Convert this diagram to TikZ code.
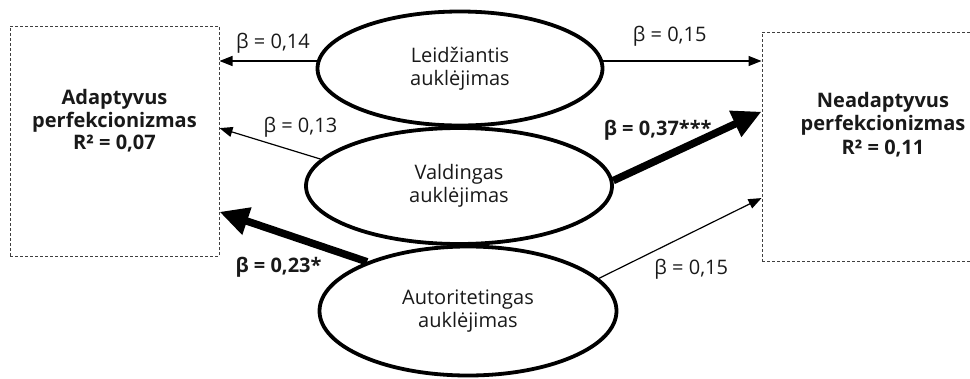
\documentclass[tikz,border=0pt]{standalone}
\usepackage{fontspec}
\setmainfont{Open Sans}
\usetikzlibrary{positioning,shapes.geometric,arrows.meta}
\tikzstyle{edge} = [-{Triangle[length=13pt,width=10pt]}, line width=1.2pt]
\tikzstyle{strongedge} = [-{Triangle[length=29pt,width=27pt]}, line width=7.5pt]
\tikzstyle{parenting} = [ellipse, draw, line width=3.8pt, inner sep=0pt]
\tikzstyle{outcome} = [draw=black!75, line width=1pt, dash pattern=on 3pt off 2pt]

\begin{document}
\begin{tikzpicture}[x=1pt, y=-1pt]
\tikzstyle{every node}=[align=center, inner sep=1pt, text=black!90, font=\fontsize{20}{23.5}\selectfont]
	\useasboundingbox (0,0) rectangle (970,378);
	\node[outcome, minimum width=209pt, minimum height=230pt] (adapt) at (114.5, 141) {};
	\node[outcome, minimum width=242pt, minimum height=229pt] (neadapt) at (883, 146.5) {};
	\node[font=\fontsize{20}{22.5}\selectfont\bfseries] (adapttxt) at ([yshift=20pt]adapt.center) {Adaptyvus\\perfekcionizmas\\R² = 0,07};
	\node[font=\fontsize{20}{23.5}\selectfont\bfseries] (neadapttxt) at ([yshift=22pt]neadapt.center) {Neadaptyvus\\perfekcionizmas\\R² = 0,11};

	\node[parenting, minimum width=285pt, minimum height=114pt] (leid) at (460, 68.5) {Leidžiantis\\auklėjimas};
	\node[parenting, minimum width=306pt, minimum height=116pt] (vald) at (459, 186) {Valdingas\\auklėjimas};
	\node[parenting, minimum width=297pt, minimum height=129pt] (autor) at (468, 311) {Autoritetingas\\auklėjimas};

	\draw[edge]  (leid.177) -- (leid.177 -| adapt.east) node[pos=0.45, above=6pt] {β = 0,14};
	\draw[edge]  (leid.3) -- (leid.3 -| neadapt.west) node[pos=0.42, above=13pt] {β = 0,15};
	\draw[edge]  (vald.169) -- (adapt.7) node[pos=0.2, above=14pt] {β = 0,13};
	\draw[strongedge]  (vald.2) -- (neadapt.164) node[pos=0.3, above=14.5pt, font=\fontsize{20}{23.5}\selectfont\bfseries] {β = 0,37***};
	\draw[strongedge]  (autor.154) -- (adapt.-34) node[pos=0.6, below=21pt, font=\fontsize{20}{23.5}\selectfont\bfseries] {β = 0,23*};
	\draw[edge]  (autor.14) -- (neadapt.203) node[pos=0.568, below=25pt] {β = 0,15};
\end{tikzpicture}
\end{document}
